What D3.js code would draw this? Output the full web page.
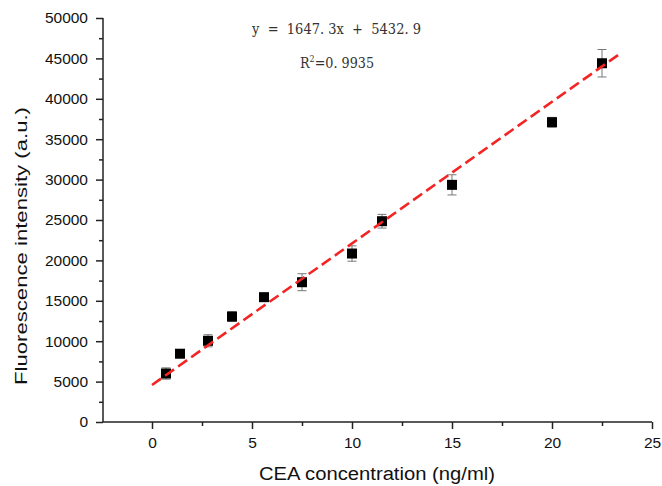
<!DOCTYPE html>
<html lang="en">
<head>
<meta charset="UTF-8">
<script src="https://d3js.org/d3.v7.min.js"></script>
<title>CEA calibration</title>
<style>
  body { margin: 0; background: #fff; }
  .axis path, .axis line { stroke: #222; stroke-width: 1.5; }
</style>
</head>
<body>
<svg id="chart" width="662" height="486"></svg>
<script>
// data
var conc = [0.7, 1.4, 2.8, 4.0, 5.6, 7.5, 10, 11.5, 15, 20, 22.5];
var intensity = [6000, 8450, 10050, 13050, 15450, 17300, 20850, 24850, 29350, 37100, 44400];
var errs = [700, 300, 750, 600, 450, 1050, 950, 850, 1250, 600, 1700];
var fitX = [0, 23.45];
var fitY = [4580, 45670];
var xTicks = [0, 5, 10, 15, 20, 25];
var yTicks = [0, 5000, 10000, 15000, 20000, 25000, 30000, 35000, 40000, 45000, 50000];

var svg = d3.select("#chart");
var mLeft = 103, mRight = 652, mTop = 18, mBottom = 422;

var xs = d3.scaleLinear().domain([-2.45, 25]).range([mLeft, mRight]);
var ys = d3.scaleLinear().domain([0, 50000]).range([mBottom, mTop]);

// minor ticks first
svg.append("g").attr("class", "axis")
    .attr("transform", "translate(0," + mBottom + ")")
    .call(d3.axisBottom(xs).tickValues([2.5, 7.5, 12.5, 17.5, 22.5]).tickSize(4).tickFormat(""))
    .select(".domain").remove();
svg.append("g").attr("class", "axis")
    .attr("transform", "translate(" + mLeft + ",0)")
    .call(d3.axisLeft(ys).tickValues(d3.range(2500, 50000, 5000)).tickSize(4).tickFormat(""))
    .select(".domain").remove();

var xa = svg.append("g").attr("class", "axis")
    .attr("transform", "translate(0," + mBottom + ")")
    .call(d3.axisBottom(xs).tickValues(xTicks).tickSize(7).tickPadding(8).tickSizeOuter(0));
xa.select(".domain").attr("d", "M" + mLeft + ",0H" + mRight);

var ya = svg.append("g").attr("class", "axis")
    .attr("transform", "translate(" + mLeft + ",0)")
    .call(d3.axisLeft(ys).tickValues(yTicks).tickFormat(d3.format("d")).tickSize(7).tickPadding(8).tickSizeOuter(0));
ya.select(".domain").attr("d", "M0," + mBottom + "V" + mTop);

svg.selectAll(".axis")
    .attr("font-family", "'Liberation Sans', Arial, sans-serif")
    .attr("font-size", 15.5);
svg.selectAll(".axis text").attr("fill", "#111");

// error bars
var eb = svg.append("g").attr("stroke", "#777").attr("stroke-width", 1);
conc.forEach(function(c, i) {
  var x = xs(c), y1 = ys(intensity[i] - errs[i]), y2 = ys(intensity[i] + errs[i]);
  eb.append("line").attr("x1", x).attr("x2", x).attr("y1", y1).attr("y2", y2);
  eb.append("line").attr("x1", x - 4.5).attr("x2", x + 4.5).attr("y1", y1).attr("y2", y1);
  eb.append("line").attr("x1", x - 4.5).attr("x2", x + 4.5).attr("y1", y2).attr("y2", y2);
});

// squares
svg.append("g").selectAll("rect")
    .data(conc).enter().append("rect")
    .attr("x", function(d) { return xs(d) - 5; })
    .attr("y", function(d, i) { return ys(intensity[i]) - 5; })
    .attr("width", 10).attr("height", 10)
    .attr("fill", "#000");

// fitted line
svg.append("line")
    .attr("x1", xs(fitX[0])).attr("y1", ys(fitY[0]))
    .attr("x2", xs(fitX[1])).attr("y2", ys(fitY[1]))
    .attr("stroke", "#f22424").attr("stroke-width", 2.6)
    .attr("stroke-dasharray", "11,5");

// equation
var eq = svg.append("g").attr("font-family", "'DejaVu Serif', 'Liberation Serif', serif")
    .attr("font-size", 14.5).attr("fill", "#333");
eq.append("text").attr("x", 252).attr("y", 34).attr("xml:space", "preserve")
    .attr("textLength", 169).attr("lengthAdjust", "spacingAndGlyphs")
    .text("y  =  1647. 3x  +  5432. 9");
var r2 = eq.append("text").attr("x", 300).attr("y", 68)
    .attr("textLength", 74).attr("lengthAdjust", "spacingAndGlyphs");
r2.append("tspan").text("R");
r2.append("tspan").attr("font-size", 9).attr("dy", -6).text("2");
r2.append("tspan").attr("dy", 6).text("=0. 9935");

// axis titles
svg.append("text")
    .attr("x", 259).attr("y", 480)
    .attr("textLength", 236).attr("lengthAdjust", "spacingAndGlyphs")
    .attr("font-family", "'Liberation Sans', Arial, sans-serif")
    .attr("font-size", 18).attr("fill", "#111")
    .text("CEA concentration (ng/ml)");
svg.append("text")
    .attr("transform", "translate(27,385) rotate(-90)")
    .attr("textLength", 278).attr("lengthAdjust", "spacingAndGlyphs")
    .attr("font-family", "'Liberation Sans', Arial, sans-serif")
    .attr("font-size", 17).attr("fill", "#111")
    .text("Fluorescence intensity (a.u.)");
</script>
</body>
</html>
